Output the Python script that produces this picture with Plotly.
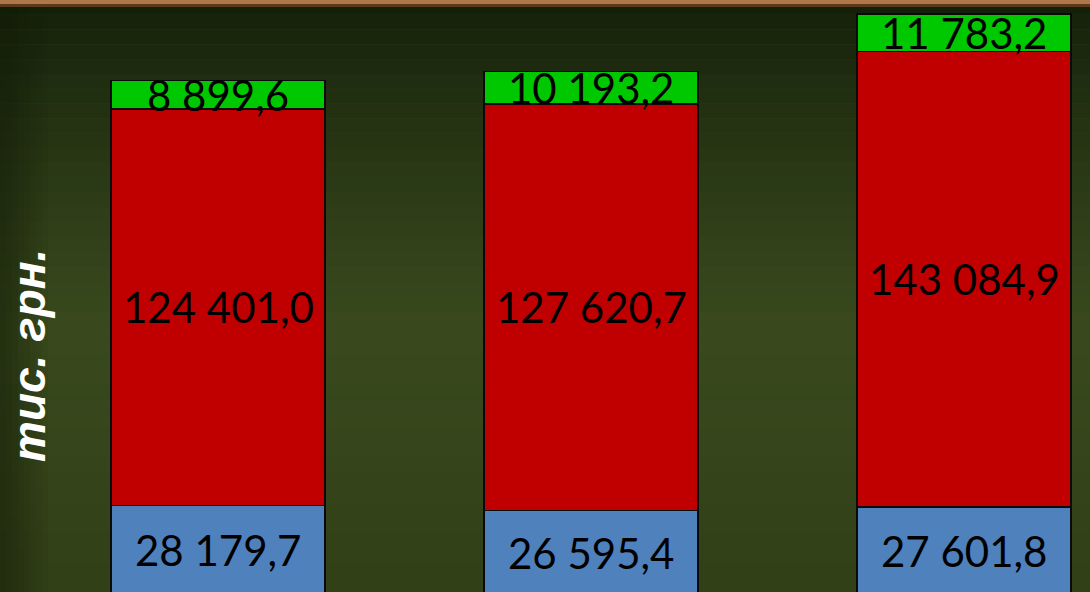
import plotly.graph_objects as go

# ---- data ----
categories = ["Рік 1", "Рік 2", "Рік 3"]
series_names = ["Серія 1", "Серія 2", "Серія 3"]
blue_vals = [28179.7, 26595.4, 27601.8]
red_vals = [124401.0, 127620.7, 143084.9]
green_vals = [8899.6, 10193.2, 11783.2]

W, H = 1090, 592

def fmt(v):
    return f"{v:,.1f}".replace(",", " ").replace(".", ",")

x_idx = list(range(len(categories)))

fig = go.Figure()
colors = ["#4f81bd", "#c00000", "#00c800"]
for name, vals, col in zip(series_names, [blue_vals, red_vals, green_vals], colors):
    fig.add_trace(go.Bar(
        x=x_idx, y=vals, name=name, width=0.574,
        marker=dict(color=col, line=dict(color="#0a0a0a", width=1.5)),
        hoverinfo="skip",
    ))

# labels centred in each segment
annotations = []
for i in x_idx:
    base = 0
    for vals in [blue_vals, red_vals, green_vals]:
        annotations.append(dict(
            x=i, y=base + vals[i] / 2, xref="x", yref="y",
            text=fmt(vals[i]), showarrow=False,
            font=dict(family="Lato, Open Sans, sans-serif", size=42, color="#000000"),
        ))
        base += vals[i]

# axis title
annotations.append(dict(
    x=29 / W, y=1 - 356 / H, xref="paper", yref="paper",
    xanchor="center", yanchor="middle",
    text="тис. грн.", textangle=-90, showarrow=False,
    font=dict(family="Liberation Sans, Arial, sans-serif", size=46, color="#ffffff",
              weight="bold", style="italic"),
))

# chalkboard background: vertical gradient strips + left vignette + wood frame
shapes = []
top_c = (20, 32, 10)
mid_c = (58, 74, 30)
bot_c = (50, 64, 24)
n = 40
for k in range(n):
    t = k / (n - 1)
    if t < 0.55:
        u = t / 0.55
        u = u ** 0.8
        c = tuple(int(top_c[j] + (mid_c[j] - top_c[j]) * u) for j in range(3))
    else:
        u = (t - 0.55) / 0.45
        c = tuple(int(mid_c[j] + (bot_c[j] - mid_c[j]) * u) for j in range(3))
    shapes.append(dict(type="rect", xref="paper", yref="paper",
                       x0=0, x1=1, y0=1 - (k + 1) / n, y1=1 - k / n,
                       fillcolor=f"rgb{c}", line=dict(width=0), layer="below"))
for k in range(8):
    shapes.append(dict(type="rect", xref="paper", yref="paper",
                       x0=k * 6 / W, x1=(k + 1) * 6 / W, y0=0, y1=1,
                       fillcolor="rgba(15,25,5,%.3f)" % (0.5 * (1 - k / 8)),
                       line=dict(width=0), layer="below"))
shapes.append(dict(type="rect", xref="paper", yref="paper",
                   x0=0, x1=1, y0=1 - 4 / H, y1=1,
                   fillcolor="#b07848", line=dict(width=0), layer="above"))
shapes.append(dict(type="rect", xref="paper", yref="paper",
                   x0=0, x1=1, y0=1 - 7 / H, y1=1 - 4 / H,
                   fillcolor="#5a3a1a", line=dict(width=0), layer="above"))

fig.update_layout(
    width=W, height=H,
    barmode="stack",
    bargap=0.426,
    showlegend=False,
    margin=dict(l=0, r=0, t=0, b=0),
    paper_bgcolor="#34441a",
    plot_bgcolor="rgba(0,0,0,0)",
    xaxis=dict(range=[-0.5845, 2.3378], visible=False, fixedrange=True),
    yaxis=dict(range=[942, 186830], visible=False, fixedrange=True),
    annotations=annotations,
    shapes=shapes,
)

fig.write_html("out.html", config={"displayModeBar": False},
               post_script="document.body.style.margin='0';document.body.style.overflow='hidden';")
